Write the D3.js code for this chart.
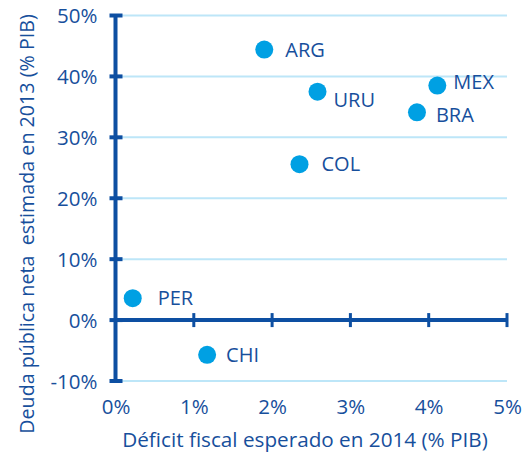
<!DOCTYPE html>
<html><head><meta charset="utf-8">
<script src="https://cdn.jsdelivr.net/npm/d3@7"></script>
<style>
body{margin:0;background:#fff;}
text{font-family:"Open Sans",sans-serif;}
</style></head>
<body><svg id="c" width="532" height="459"></svg>
<script>
const countries = ["ARG","URU","MEX","BRA","COL","PER","CHI"];
const deficit2014 = [1.90, 2.58, 4.11, 3.85, 2.35, 0.22, 1.17];
const debt2013 = [44.4, 37.5, 38.5, 34.1, 25.6, 3.6, -5.7];
const labelOffsetX = [21, 16, 16, 19, 22, 25, 19];
const labelOffsetY = [0, 8, -4, 2, 0, 0, 0];
const xTicks = [0,1,2,3,4,5];
const yTicks = [-10,0,10,20,30,40,50];
const xTitle = "Déficit fiscal esperado en 2014 (% PIB)";
const yTitle = "Deuda pública neta\u00a0 estimada en 2013 (% PIB)";

const svg = d3.select("#c");
const x = d3.scaleLinear().domain([0,5]).range([115.5,507]);
const y = d3.scaleLinear().domain([-10,50]).range([381,15.5]);
const axisCol = "#0d4fa2", textCol = "#174f9c", dotCol = "#00a0e3", gridCol = "#bde6f8";

// gridlines
svg.append("g").selectAll("line").data(yTicks.filter(d=>d!==0)).join("line")
  .attr("x1", x(0)).attr("x2", x(5)).attr("y1", d=>y(d)).attr("y2", d=>y(d))
  .attr("stroke", gridCol).attr("stroke-width", 2);

// y axis
const yAxis = svg.append("g").attr("transform",`translate(${x(0)},0)`)
  .call(d3.axisLeft(y).tickValues(yTicks).tickFormat(d=>d+"%").tickSize(0).tickPadding(18));
yAxis.select(".domain").remove();
yAxis.selectAll("text").attr("fill",textCol).attr("font-size",20.5).attr("dy","0.36em");
svg.append("line").attr("x1",x(0)).attr("x2",x(0)).attr("y1",y(50)).attr("y2",y(-10))
  .attr("stroke",axisCol).attr("stroke-width",4);
svg.append("g").selectAll("line").data(yTicks).join("line")
  .attr("x1",x(0)-6).attr("x2",x(0)+7).attr("y1",d=>y(d)).attr("y2",d=>y(d))
  .attr("stroke",axisCol).attr("stroke-width",4);

// x axis at y=0
svg.append("line").attr("x1",x(0)).attr("x2",x(5)).attr("y1",y(0)).attr("y2",y(0))
  .attr("stroke",axisCol).attr("stroke-width",4);
svg.append("g").selectAll("line").data(xTicks.filter(d=>d>0)).join("line")
  .attr("x1",d=>x(d)).attr("x2",d=>x(d)).attr("y1",y(0)-7).attr("y2",y(0)+7)
  .attr("stroke",axisCol).attr("stroke-width",3);
const xAxis = svg.append("g").attr("transform",`translate(0,${y(-10)})`)
  .call(d3.axisBottom(x).tickValues(xTicks).tickFormat(d=>d+"%").tickSize(0).tickPadding(18));
xAxis.select(".domain").remove();
xAxis.selectAll("text").attr("fill",textCol).attr("font-size",20.5);

// points
const data = countries.map((c,i)=>({c, x:deficit2014[i], y:debt2013[i], dx:labelOffsetX[i], dy:labelOffsetY[i]}));
svg.append("g").selectAll("circle").data(data).join("circle")
  .attr("cx",d=>x(d.x)).attr("cy",d=>y(d.y)).attr("r",9).attr("fill",dotCol);
svg.append("g").selectAll("text").data(data).join("text")
  .attr("x",d=>x(d.x)+d.dx).attr("y",d=>y(d.y)+d.dy).attr("dy","0.36em")
  .attr("fill",textCol).attr("font-size",20).text(d=>d.c);

// titles
svg.append("text").attr("x",305).attr("y",447).attr("text-anchor","middle")
  .attr("fill",textCol).attr("font-size",20.7).text(xTitle);
svg.append("text").attr("transform","translate(34,224) rotate(-90)").attr("text-anchor","middle")
  .attr("fill",textCol).attr("font-size",19.7).text(yTitle);
</script></body></html>
